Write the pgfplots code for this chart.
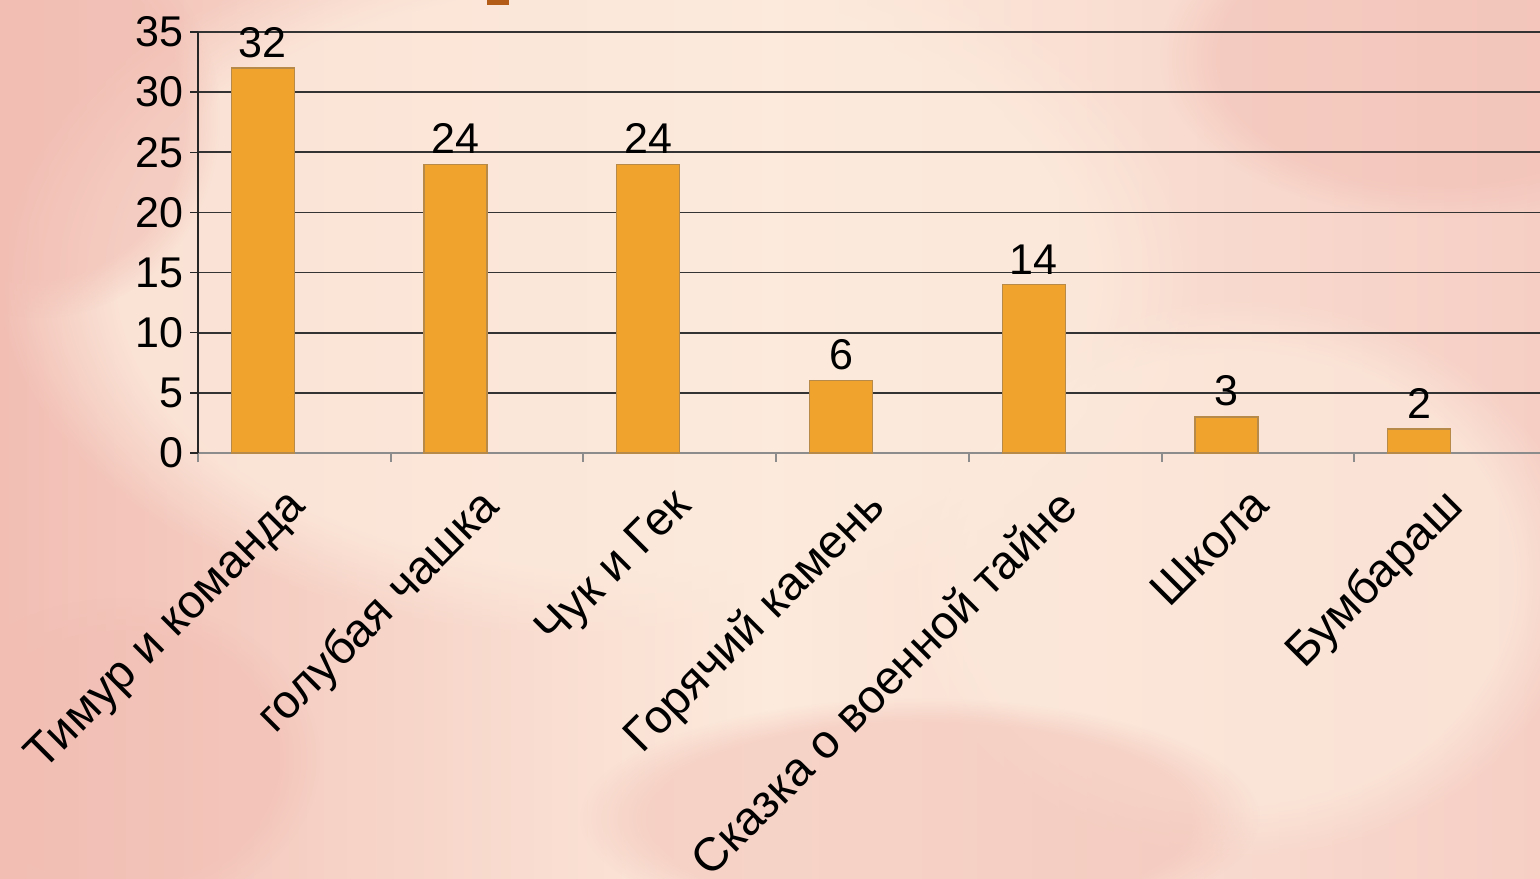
\documentclass[border=0pt]{standalone}
\usepackage{pgfplots}
\pgfplotsset{compat=1.18}
\usetikzlibrary{fadings}
\usepackage{fontspec}
\setmainfont{Liberation Sans}
\definecolor{barfill}{RGB}{240,164,46}
\definecolor{baredge}{RGB}{184,138,74}
\definecolor{bgpink}{RGB}{246,206,196}
\definecolor{bgcream}{RGB}{252,234,220}
\definecolor{bgrose}{RGB}{242,190,180}
\definecolor{titlebrown}{RGB}{179,92,24}
\begin{document}
\begin{tikzpicture}
\path[use as bounding box] (0,0) rectangle (770pt,439pt);
\clip (0,0) rectangle (770pt,439pt);
% background
\shade[left color=bgrose, right color=bgpink, middle color=bgcream] (0,0) rectangle (770pt,439pt);
\fill[bgcream, path fading=circle with fuzzy edge 20 percent, opacity=0.8] (300pt,300pt) ellipse (300pt and 180pt);
\fill[bgcream, path fading=circle with fuzzy edge 20 percent, opacity=0.7] (620pt,150pt) ellipse (170pt and 140pt);
\fill[bgrose, path fading=circle with fuzzy edge 20 percent, opacity=0.6] (20pt,380pt) ellipse (90pt and 100pt);
\fill[bgrose, path fading=circle with fuzzy edge 20 percent, opacity=0.5] (720pt,410pt) ellipse (140pt and 80pt);
\fill[bgrose, path fading=circle with fuzzy edge 20 percent, opacity=0.5] (460pt,30pt) ellipse (170pt and 60pt);
\fill[bgrose, path fading=circle with fuzzy edge 20 percent, opacity=0.5] (60pt,60pt) ellipse (100pt and 80pt);
\fill[titlebrown] (243.5pt,436.5pt) rectangle (254.5pt,439pt);
\begin{axis}[
  at={(99pt,212.5pt)}, anchor=south west,
  scale only axis, width=674.5pt, height=210.5pt,
  xmin=-0.5, xmax=6.5, ymin=0, ymax=35,
  axis x line=bottom, axis y line=left,
  axis line style={-},
  x axis line style={draw=gray!90, line width=1pt},
  y axis line style={draw=black!85, line width=0.7pt},
  ytick={0,5,...,35},
  ymajorgrids, major grid style={draw=black!80, line width=0.9pt},
  y tick style={draw=black!85, line width=0.7pt},
  major tick length=4pt,
  ytick align=outside,
  xtick={0,...,6},
  xticklabels={Тимур и команда, голубая чашка, Чук и Гек, Горячий камень, Сказка о военной тайне, Школа, Бумбараш},
  x tick style={draw=none},
  minor xtick={-0.5,0.5,...,6.5},
  minor x tick style={draw=gray!90, line width=1pt},
  minor tick length=4.5pt,
  xtick align=outside,
  xticklabel style={rotate=45, anchor=north east, font=\fontsize{23.5}{25}\selectfont, xshift=-8.5pt, yshift=-1.3pt},
  yticklabel style={font=\fontsize{21.5}{24}\selectfont},
  /pgf/number format/assume math mode=true,
  ybar, bar width=31.5pt, bar shift=-15.75pt,
  nodes near coords,
  every node near coord/.append style={font=\fontsize{21.5}{24}\selectfont, black, inner sep=2pt, yshift=3pt},
  clip=false,
]
\addplot[fill=barfill, draw=baredge, line width=0.6pt] coordinates {(0,32) (1,24) (2,24) (3,6) (4,14) (5,3) (6,2)};
\end{axis}
\end{tikzpicture}
\end{document}
